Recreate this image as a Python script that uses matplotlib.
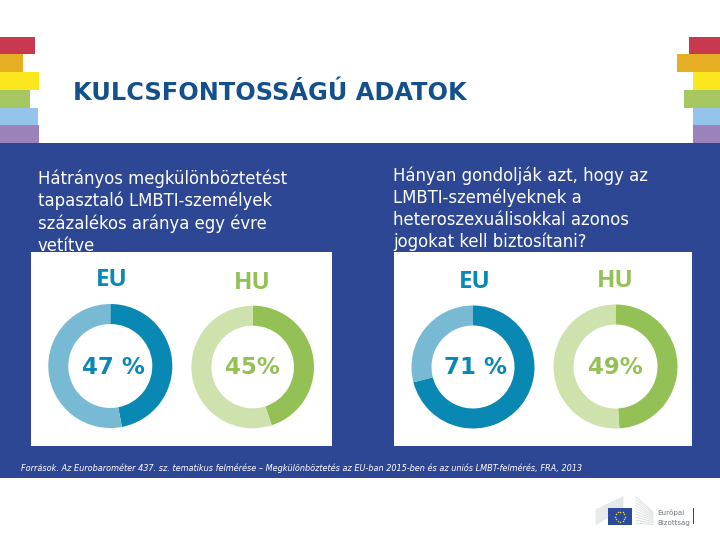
import numpy as np
import matplotlib
matplotlib.use("Agg")
import matplotlib.pyplot as plt
from matplotlib.patches import Rectangle

W, H = 720, 540

# valeurs
regions = ["EU", "HU", "EU", "HU"]
shares = [47, 45, 71, 49]
value_labels = ["47 %", "45%", "71 %", "49%"]
title = "KULCSFONTOSSÁGÚ ADATOK"
left_lines = ["Hátrányos megkülönböztetést", "tapasztaló LMBTI-személyek",
              "százalékos aránya egy évre", "vetítve"]
right_lines = ["Hányan gondolják azt, hogy az", "LMBTI-személyeknek a",
               "heteroszexuálisokkal azonos", "jogokat kell biztosítani?"]
source = ("Források. Az Eurobarométer 437. sz. tematikus felmérése – Megkülönböztetés "
          "az EU-ban 2015-ben és az uniós LMBT-felmérés, FRA, 2013")

BLUE = "#2e4795"
EU_DARK, EU_LIGHT = "#0a88b4", "#78b9d3"
HU_DARK, HU_LIGHT = "#94c155", "#cfe2ae"
stripe_colors = ["#c8394f", "#e6ae22", "#fbe71e", "#a7c760", "#94c4e9", "#9b82bb"]
left_widths = [35, 23, 39, 30, 38, 39]
right_starts = [689, 677, 693, 684, 692.5, 693]

fig = plt.figure(figsize=(W / 100, H / 100), dpi=100, facecolor="white")
ax = fig.add_axes([0, 0, 1, 1])
ax.set_xlim(0, W)
ax.set_ylim(H, 0)
ax.axis("off")

# Bandes arc-en-ciel
for i, c in enumerate(stripe_colors):
    y = 36.7 + i * 17.75
    ax.add_patch(Rectangle((0, y), left_widths[i], 17.75, color=c, lw=0))
    ax.add_patch(Rectangle((right_starts[i], y), W - right_starts[i], 17.75, color=c, lw=0))

ax.text(73, 92.5, title, fontsize=17.3, fontweight="bold", color="#13508c", va="center")

# Panneau bleu et panneaux blancs
ax.add_patch(Rectangle((0, 143), W, 335, color=BLUE, lw=0, zorder=1))

for i, line in enumerate(left_lines):
    ax.text(38, 178.5 + i * 22.6, line, fontsize=11.9, color="white", va="center", zorder=2)
for i, line in enumerate(right_lines):
    ax.text(393, 176 + i * 22, line, fontsize=11.9, color="white", va="center", zorder=2)

ax.add_patch(Rectangle((31, 252), 301, 194, color="white", lw=0, zorder=3))
ax.add_patch(Rectangle((394, 252), 298, 194, color="white", lw=0, zorder=3))

ax.text(21, 468, source, fontsize=5.82, style="italic", color="white", va="center", zorder=2)

# Anneaux
centers = [(110.3, 366), (252.7, 367), (473, 367), (615.5, 366.5)]
radii = [62, 61.3, 61.5, 62]
label_pos = [(111.3, 280), (252, 283), (474.7, 281.5), (615, 281)]
value_x = [113.5, 252, 475, 615]
for i, val in enumerate(shares):
    cx, cy = centers[i]
    r = radii[i]
    dark, light = (EU_DARK, EU_LIGHT) if regions[i] == "EU" else (HU_DARK, HU_LIGHT)
    pie_ax = fig.add_axes([(cx - r) / W, 1 - (cy + r) / H, 2 * r / W, 2 * r / H], zorder=5)
    pie_ax.pie([val, 100 - val], colors=[dark, light], startangle=90, counterclock=False,
               radius=1, wedgeprops={"width": 20 / r, "linewidth": 0})
    pie_ax.set_xlim(-1, 1)
    pie_ax.set_ylim(-1, 1)
    ax.text(label_pos[i][0], label_pos[i][1], regions[i], fontsize=17.5, fontweight="bold",
            family="Open Sans", color=dark, ha="center", va="center", zorder=6)
    ax.text(value_x[i], 367, value_labels[i], fontsize=16.5, fontweight="bold",
            color=dark, ha="center", va="center", zorder=6)

# Logo de la Commission
ax.add_patch(Rectangle((608, 508), 24, 17, color="#2b4a9b", lw=0, zorder=3))
angles = np.linspace(0, 2 * np.pi, 12, endpoint=False)
ax.scatter(620 + 5 * np.cos(angles), 516.5 + 5 * np.sin(angles), s=1.2, color="#f3d43a", lw=0, zorder=4)
for k in range(10):
    ax.plot([596, 623], [510 + k * 1.6, 497 + k * 1.2], color="#dfe2e2", lw=0.7, zorder=2)
    ax.plot([636, 653], [497 + k * 2.9, 512 + k * 1.4], color="#dfe2e2", lw=0.7, zorder=2)
ax.text(657, 513, "Európai", fontsize=5.1, color="#6f7478", va="center")
ax.text(657, 522.7, "Bizottság", fontsize=5.1, color="#6f7478", va="center")
ax.add_patch(Rectangle((692.5, 508), 1.5, 16, color="#33478f", lw=0))

fig.savefig("out.png", dpi=100)
